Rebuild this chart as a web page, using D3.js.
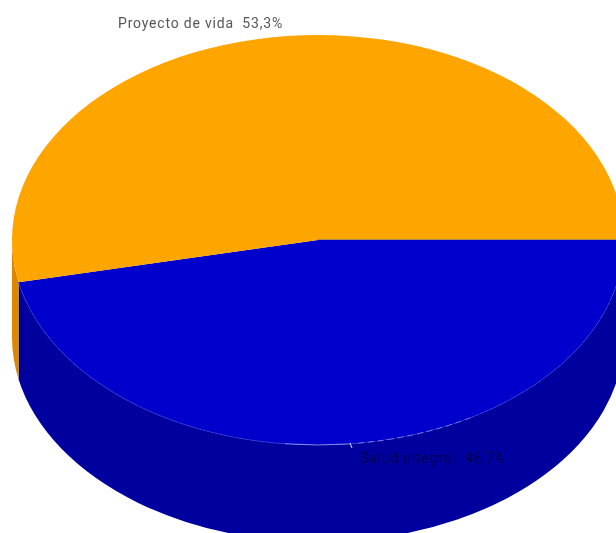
<!DOCTYPE html>
<html>
<head>
<meta charset="utf-8">
<script src="https://cdn.jsdelivr.net/npm/d3@7"></script>
<style>
  html, body { margin: 0; padding: 0; background: #fff; overflow: hidden; }
  svg { display: block; }
</style>
</head>
<body>
<svg id="chart" width="616" height="533"></svg>
<script>
var categories = ["Salud integral", "Proyecto de vida"];
var values = [46.7, 53.3];
var labels = ["46,7%", "53,3%"];

var width = 616, height = 533;
var cx = 318, cy = 240, rx = 306, ry = 205, depth = 97;
var topColors = ["#0000cc", "#ffa500"];
var sideColors = ["#00009f", "#d98800"];

var svg = d3.select("#chart");

svg.append("defs").append("filter")
  .attr("id", "soft")
  .append("feGaussianBlur")
  .attr("stdDeviation", 0.55);

// blue starts at 3 o'clock and goes clockwise, d3.pie angles are from 12 o'clock
var pie = d3.pie().sort(null).startAngle(Math.PI / 2).endAngle(Math.PI * 2.5);
var slices = pie(values);

function px(a) { return cx + rx * Math.sin(a); }
function py(a) { return cy - ry * Math.cos(a); }

function ellipseArc(a0, a1, dy) {
  var big = (a1 - a0) > Math.PI ? 1 : 0;
  return "A" + rx + "," + ry + " 0 " + big + " 1 " + px(a1) + "," + (py(a1) + dy);
}

function wall(a0, a1) {
  var big = (a1 - a0) > Math.PI ? 1 : 0;
  return "M" + px(a0) + "," + py(a0) +
    ellipseArc(a0, a1, 0) +
    "L" + px(a1) + "," + (py(a1) + depth) +
    "A" + rx + "," + ry + " 0 " + big + " 0 " + px(a0) + "," + (py(a0) + depth) + "Z";
}

// side walls, only the front half of the ellipse can be seen
slices.forEach(function(d, i) {
  var a0 = Math.max(d.startAngle, Math.PI / 2);
  var a1 = Math.min(d.endAngle, Math.PI * 1.5);
  if (a1 <= a0) return;
  svg.append("path")
    .attr("d", wall(a0, a1))
    .attr("fill", sideColors[i]);
});

// top faces
slices.forEach(function(d, i) {
  svg.append("path")
    .attr("d", "M" + cx + "," + cy + "L" + px(d.startAngle) + "," + py(d.startAngle) +
      ellipseArc(d.startAngle, d.endAngle, 0) + "Z")
    .attr("fill", topColors[i]);
});

// thin seam between the slices on the right
svg.append("line")
  .attr("x1", cx).attr("y1", cy - 0.5)
  .attr("x2", width).attr("y2", cy - 0.5)
  .attr("stroke", "#a88a5a")
  .attr("stroke-width", 1);

// light rim along the front of the blue slice, brightest near the bottom
function rim(a0, a1, color, dash, w) {
  svg.append("path")
    .attr("d", "M" + px(a0) + "," + py(a0) + ellipseArc(a0, a1, 0))
    .attr("fill", "none")
    .attr("stroke", color)
    .attr("stroke-width", w)
    .attr("stroke-dasharray", dash);
}
var tickAngle = 3.037;
rim(Math.PI / 2, 2.62, "#3a3ad8", "3,2", 1);
rim(2.62, 3.02, "#7a7ae8", "6,4", 1);
rim(tickAngle, 3.25, "#a0a0ee", null, 0.8);
rim(3.25, slices[0].endAngle, "#3434d6", "3,1", 1);

// label leader on the blue slice
svg.append("line")
  .attr("x1", px(tickAngle)).attr("y1", py(tickAngle) - 1)
  .attr("x2", px(tickAngle) + 2).attr("y2", py(tickAngle) + 4)
  .attr("stroke", "#c8c8f0")
  .attr("stroke-width", 1.2);

var labelPos = [[360, 463], [118, 28]];
var labelFill = ["#00004d", "#555"];
categories.forEach(function(c, i) {
  svg.append("text")
    .attr("x", labelPos[i][0])
    .attr("y", labelPos[i][1])
    .attr("font-family", "Roboto, sans-serif")
    .attr("font-size", 14)
    .attr("letter-spacing", 0.8)
    .attr("fill", labelFill[i])
    .attr("filter", "url(#soft)")
    .style("white-space", "pre")
    .text(c + "  " + labels[i]);
});
</script>
</body>
</html>
